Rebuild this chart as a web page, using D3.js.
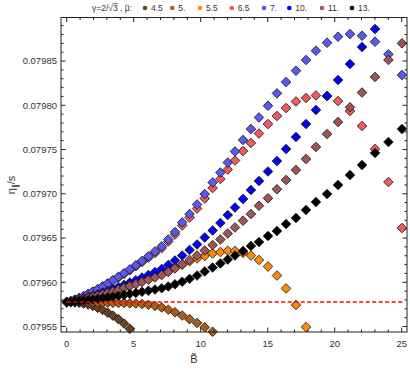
<!DOCTYPE html>
<html><head><meta charset="utf-8">
<script src="https://cdn.jsdelivr.net/npm/d3@7"></script>
<style>body{margin:0;background:#fff}svg{display:block;font-family:"Liberation Sans",Arial,sans-serif}</style>
</head><body><svg id="c" width="410" height="370"></svg>
<script>
const B = [0,0.3,0.61,0.93,1.26,1.6,1.95,2.31,2.68,3.06,3.45,3.86,4.28,4.71,5.16,5.62,6.1,6.59,7.09,7.58,8.08,8.62,9.17,9.73,10.30,10.89,11.47,12.02,12.56,13.16,13.75,14.35,15.02,15.69,16.37,17.11,17.86,18.60,19.43,20.25,21.14,22.04,23.01,24.01,25.02];
const muLabels = ["4.5","5.","5.5","6.5","7.","10.","11.","13."];
const colors = ["#6b4220","#b05c14","#ff8a0a","#f25a5e","#5a5aef","#0000f2","#a05454","#000000"];
const v45 = [0.0795777,0.0795776,0.0795774,0.0795768,0.0795760,0.0795749,0.0795732,0.0795711,0.0795687,0.0795657,0.0795623,0.0795583,0.0795534,0.0795475];
const v5 = [0.0795777,0.0795777,0.0795777,0.0795776,0.0795776,0.0795775,0.0795774,0.0795772,0.0795771,0.0795770,0.0795768,0.0795766,0.0795765,0.0795762,0.0795760,0.0795754,0.0795745,0.0795732,0.0795715,0.0795690,0.0795661,0.0795624,0.0795583,0.0795540,0.0795491,0.0795441];
const v55 = [0.0795777,0.0795783,0.0795791,0.0795801,0.0795812,0.0795824,0.0795838,0.0795853,0.0795870,0.0795885,0.0795905,0.0795924,0.0795945,0.0795968,0.0795992,0.0796017,0.0796043,0.0796071,0.0796100,0.0796131,0.0796165,0.0796201,0.0796237,0.0796269,0.0796297,0.0796325,0.0796342,0.0796356,0.0796353,0.0796331,0.0796302,0.0796252,0.0796178,0.0796076,0.0795930,0.0795743,0.0795494];
const v65 = [0.0795777,0.0795787,0.0795803,0.0795821,0.0795843,0.0795866,0.0795892,0.0795921,0.0795951,0.0795983,0.0796018,0.0796055,0.0796095,0.0796136,0.0796182,0.0796229,0.0796279,0.0796332,0.0796386,0.0796461,0.0796540,0.0796641,0.0796732,0.0796834,0.0796947,0.0797065,0.0797167,0.0797274,0.0797376,0.0797483,0.0797574,0.0797681,0.0797788,0.0797879,0.0797969,0.0798043,0.0798082,0.0798111,0.0798105,0.0798048,0.0797935,0.0797766,0.0797506,0.0797133,0.0796613];
const v7 = [0.0795777,0.0795787,0.0795803,0.0795822,0.0795844,0.0795867,0.0795895,0.0795923,0.0795954,0.0795987,0.0796023,0.0796062,0.0796102,0.0796145,0.0796192,0.0796241,0.0796293,0.0796349,0.0796406,0.0796483,0.0796568,0.0796675,0.0796771,0.0796879,0.0796997,0.0797127,0.0797240,0.0797353,0.0797478,0.0797608,0.0797732,0.0797862,0.0797995,0.0798135,0.0798263,0.0798391,0.0798512,0.0798617,0.0798707,0.0798775,0.0798805,0.0798786,0.0798718,0.0798576,0.0798342];
const v10 = [0.0795777,0.0795783,0.0795793,0.0795804,0.0795817,0.0795831,0.0795847,0.0795864,0.0795883,0.0795902,0.0795924,0.0795947,0.0795970,0.0795996,0.0796023,0.0796053,0.0796083,0.0796116,0.0796150,0.0796195,0.0796246,0.0796302,0.0796365,0.0796427,0.0796506,0.0796585,0.0796670,0.0796760,0.0796845,0.0796941,0.0797043,0.0797144,0.0797252,0.0797370,0.0797506,0.0797642,0.0797788,0.0797947,0.0798105,0.0798286,0.0798466,0.0798659,0.0798862];
const v11 = [0.0795777,0.0795783,0.0795789,0.0795800,0.0795810,0.0795822,0.0795835,0.0795849,0.0795864,0.0795880,0.0795897,0.0795916,0.0795935,0.0795957,0.0795979,0.0796003,0.0796028,0.0796054,0.0796082,0.0796116,0.0796156,0.0796201,0.0796252,0.0796302,0.0796359,0.0796421,0.0796483,0.0796551,0.0796619,0.0796696,0.0796771,0.0796865,0.0796949,0.0797051,0.0797156,0.0797269,0.0797393,0.0797529,0.0797675,0.0797811,0.0797977,0.0798144,0.0798320,0.0798512,0.0798700];
const v13 = [0.0795777,0.0795779,0.0795784,0.0795788,0.0795794,0.0795800,0.0795806,0.0795813,0.0795821,0.0795829,0.0795838,0.0795847,0.0795857,0.0795869,0.0795880,0.0795892,0.0795905,0.0795918,0.0795932,0.0795952,0.0795977,0.0796006,0.0796039,0.0796076,0.0796122,0.0796167,0.0796212,0.0796257,0.0796302,0.0796353,0.0796410,0.0796455,0.0796523,0.0796579,0.0796658,0.0796726,0.0796817,0.0796907,0.0796997,0.0797099,0.0797212,0.0797325,0.0797461,0.0797585,0.0797732];
const refB = [0, 25.1];
const refValue = 0.0795777;
const xTicks = [0,5,10,15,20,25];
const yTicks = [0.07955,0.07960,0.07965,0.07970,0.07975,0.07980,0.07985];

const seriesVals = [v45,v5,v55,v65,v7,v10,v11,v13];
const svg = d3.select("#c");
const L=61, R=407, T=17.5, Bt=332;
const x = d3.scaleLinear().domain([-0.425, 25.396]).range([L,R]);
const y = d3.scaleLinear().domain([0.0795438, 0.0798992]).range([Bt,T]);

const sym = d3.symbol().type(d3.symbolSquare).size(46);
seriesVals.forEach((vals,i)=>{
  svg.append("g").selectAll("path").data(vals.map((v,j)=>[B[j],v])).join("path")
    .attr("d", sym)
    .attr("transform", d=>`translate(${x(d[0])},${y(d[1])}) rotate(45)`)
    .attr("fill", colors[i]).attr("stroke","#1a1a1a").attr("stroke-width",0.8);
});
svg.append("line").attr("x1",x(refB[0])).attr("x2",x(refB[1])).attr("y1",y(refValue)).attr("y2",y(refValue))
  .attr("stroke","#ff0000").attr("stroke-width",1.5).attr("stroke-dasharray","4,2.5");

const fg = svg.append("g");
fg.append("rect").attr("x",L).attr("y",T).attr("width",R-L).attr("height",Bt-T).attr("fill","none").attr("stroke","#222").attr("stroke-width",1);
d3.range(0,26,1).forEach(t=>{
  const len = t%5===0?4.5:2.5;
  fg.append("line").attr("x1",x(t)).attr("x2",x(t)).attr("y1",Bt).attr("y2",Bt-len).attr("stroke","#222");
  fg.append("line").attr("x1",x(t)).attr("x2",x(t)).attr("y1",T).attr("y2",T+len).attr("stroke","#222");
});
d3.range(0,35).map(k=>0.07955+k*0.00001).filter(v=>v<0.0798992).forEach((v,k)=>{
  const len = k%5===0?4.5:2.5;
  fg.append("line").attr("y1",y(v)).attr("y2",y(v)).attr("x1",L).attr("x2",L+len).attr("stroke","#222");
  fg.append("line").attr("y1",y(v)).attr("y2",y(v)).attr("x1",R).attr("x2",R-len).attr("stroke","#222");
});
xTicks.forEach(t=>{
  fg.append("text").attr("x",x(t)).attr("y",347).attr("text-anchor","middle").attr("font-size",9.5).attr("fill","#333").text(t);
});
yTicks.forEach(t=>{
  fg.append("text").attr("x",57).attr("y",y(t)+3.3).attr("text-anchor","end").attr("font-size",9.5).attr("fill","#333").text(t.toFixed(5));
});
svg.append("text").attr("x",194).attr("y",363).attr("text-anchor","middle").attr("font-size",11).attr("fill","#333").text("B\u0303");
const yl = svg.append("text").attr("transform","translate(15,185) rotate(-90)").attr("text-anchor","middle").attr("font-size",11).attr("fill","#333");
yl.append("tspan").text("\u03B7");
yl.append("tspan").attr("font-size",8).attr("dy",2.5).text("\u2225");
yl.append("tspan").attr("dy",-2.5).text("/s");

// legend
const lg = svg.append("g").attr("font-size",8.5).attr("fill","#333");
const lt = lg.append("text").attr("x",92).attr("y",11);
lt.append("tspan").text("\u03B3=2/\u221A3 , \u03BC:");
const n = lt.node();
const s3 = n.getExtentOfChar(n.textContent.indexOf("3"));
lg.append("line").attr("x1",s3.x-0.3).attr("x2",s3.x+s3.width+0.3).attr("y1",s3.y+0.6).attr("y2",s3.y+0.6).attr("stroke","#333").attr("stroke-width",0.7);
const sm = n.getExtentOfChar(n.textContent.indexOf("\u03BC"));
const cx = sm.x+sm.width/2, ty = sm.y+2.2;
lg.append("path").attr("d",`M${cx-2},${ty+0.6} Q${cx-1},${ty-0.9} ${cx},${ty} T${cx+2},${ty-0.6}`).attr("fill","none").attr("stroke","#333").attr("stroke-width",0.6);
const dotX = [145,172.3,200,231.7,264,289.3,322,352];
muLabels.forEach((m,i)=>{
  lg.append("circle").attr("cx",dotX[i]).attr("cy",8).attr("r",2.3).attr("fill",colors[i]);
  lg.append("text").attr("x",dotX[i]+6).attr("y",11).text(m);
});
</script></body></html>
